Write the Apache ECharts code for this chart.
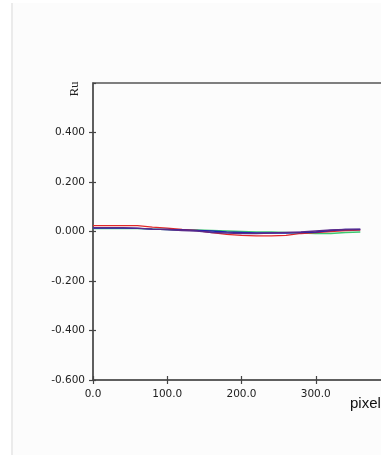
<!DOCTYPE html>
<html><head><meta charset="utf-8">
<script src="https://cdn.jsdelivr.net/npm/echarts@6/dist/echarts.min.js"></script>
<style>html,body{margin:0;padding:0;background:#fff}#c{width:381px;height:455px}</style>
</head><body><div id="c"></div>
<script>
var xPixels = [0,20,40,60,80,100,120,140,160,180,200,220,240,260,280,300,320,340,360];
var redVals = [0.024,0.024,0.024,0.024,0.018,0.014,0.008,0.004,-0.004,-0.012,-0.016,-0.018,-0.018,-0.016,-0.008,-0.004,0.000,0.004,0.006];
var blueVals = [0.014,0.014,0.014,0.013,0.010,0.008,0.006,0.004,0.002,-0.002,-0.004,-0.006,-0.006,-0.006,-0.004,-0.002,0.004,0.008,0.008];
var greenVals = [0.012,0.012,0.012,0.012,0.010,0.008,0.006,0.006,0.004,0.002,0.000,-0.002,-0.002,-0.004,-0.006,-0.008,-0.008,-0.004,-0.002];
var purpleVals = [0.016,0.016,0.016,0.014,0.010,0.008,0.004,0.002,-0.004,-0.006,-0.008,-0.008,-0.006,-0.004,-0.002,0.002,0.006,0.008,0.010];
var yAxisName = 'Ru';
var xAxisName = 'pixel';

function pairs(v){ return xPixels.map(function(x,i){ return [x, v[i]]; }); }
var chart = echarts.init(document.getElementById('c'));
var lbl = {fontFamily:'DejaVu Sans', fontSize:10.5, color:'#222'};
function mkLine(name, vals, color){
  return {name:name, type:'line', data:pairs(vals), showSymbol:false, symbol:'none',
    lineStyle:{color:color, width:1.3}, xAxisIndex:0, yAxisIndex:0, animation:false, z:3};
}
chart.setOption({
  animation:false,
  backgroundColor:'#ffffff',
  graphic:[
    {type:'rect', shape:{x:13,y:3,width:368,height:452}, style:{fill:'#fcfcfc'}, z:-10},
    {type:'rect', shape:{x:11,y:3,width:2,height:452}, style:{fill:'#ebebeb'}, z:-9},
    {type:'text', x:75, y:89, rotation:Math.PI/2, style:{text:yAxisName, font:'13px "Liberation Serif"', fill:'#222', align:'center', verticalAlign:'middle'}},
    {type:'text', x:350, y:404, style:{text:xAxisName, font:'15px "Liberation Sans"', fill:'#111', align:'left', verticalAlign:'middle'}}
  ],
  grid:{left:93, top:83, right:-9, bottom:75, outerBoundsMode:'none', containLabel:false, show:true, borderColor:'#555', borderWidth:1.5, backgroundColor:'transparent'},
  xAxis:[
    {type:'value', min:0, max:400, interval:100, position:'bottom',
     axisLine:{onZero:false, lineStyle:{color:'#555', width:1.5}}, axisTick:{show:true, length:4, lineStyle:{color:'#444', width:1.2}},
     axisLabel:Object.assign({margin:9, showMaxLabel:false, formatter:function(v){return v.toFixed(1);}}, lbl), splitLine:{show:false}},
    {type:'value', min:0, max:400, interval:100, position:'bottom', gridIndex:0,
     axisLine:{show:false, onZero:false}, axisTick:{show:true, inside:true, length:4, lineStyle:{color:'#444', width:1.2}},
     axisLabel:{show:false}, splitLine:{show:false}}
  ],
  yAxis:[
    {type:'value', min:-0.6, max:0.6, interval:0.2, position:'left',
     axisLine:{show:true, onZero:false, lineStyle:{color:'#555', width:1.5}}, axisTick:{show:true, length:4, lineStyle:{color:'#444', width:1.2}},
     axisLabel:Object.assign({margin:8, showMaxLabel:false, formatter:function(v){return (Math.abs(v)<1e-9?0:v).toFixed(3);}}, lbl), splitLine:{show:false}},
    {type:'value', min:-0.6, max:0.6, interval:0.2, position:'left',
     axisLine:{show:false, onZero:false}, axisTick:{show:true, inside:true, length:3, lineStyle:{color:'#444', width:1.2}},
     axisLabel:{show:false}, splitLine:{show:false}}
  ],
  series:[
    mkLine('green', greenVals, '#3cc870'),
    mkLine('red', redVals, '#e02828'),
    mkLine('blue', blueVals, '#2020b0'),
    mkLine('purple', purpleVals, '#5a2a8a')
  ]
});
</script></body></html>
